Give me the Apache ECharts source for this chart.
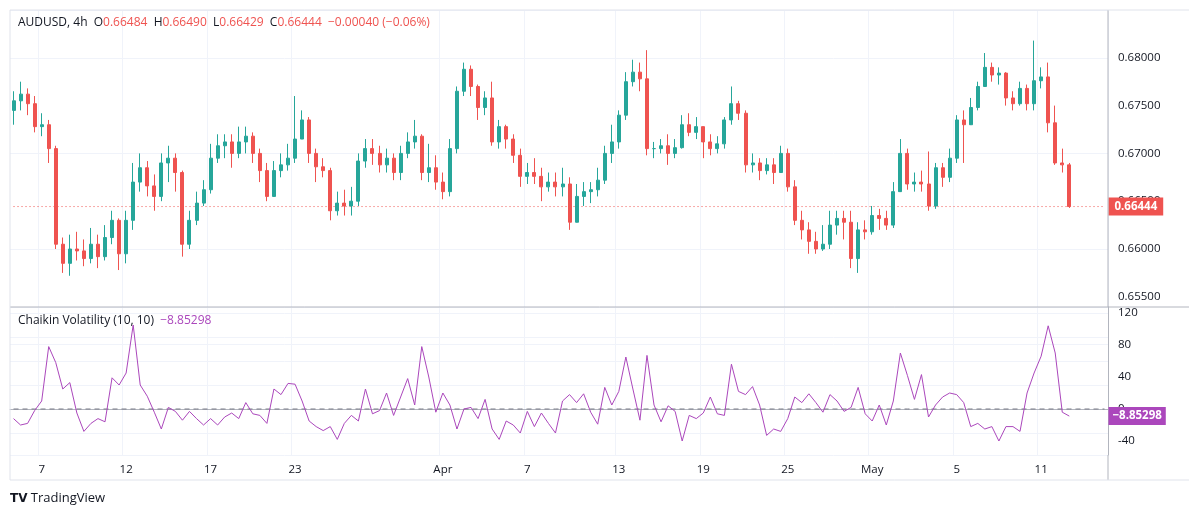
<!DOCTYPE html>
<html><head><meta charset="utf-8">
<script src="https://cdn.jsdelivr.net/npm/echarts@6/dist/echarts.min.js"></script>
<style>html,body{margin:0;padding:0;background:#fff}#c{width:1189px;height:519px}</style>
</head><body><div id="c"></div>
<script>
const firstOpen = 0.6745;
const closes = [.6755,.6762,.6752,.6728,.6730,.6705,.6605,.6585,.6600,.6598,.6590,.6605,.6592,.6612,.6630,.6595,.6630,.6670,.6685,.6666,.6655,.6690,.6695,.6680,.6605,.6630,.6648,.6662,.6695,.6708,.6712,.6700,.6712,.6718,.6700,.6682,.6655,.6682,.6688,.6695,.6715,.6735,.6700,.6686,.6682,.6640,.6648,.6645,.6650,.6692,.6705,.6700,.6688,.6695,.6680,.6700,.6712,.6718,.6680,.6685,.6670,.6660,.6705,.6765,.6788,.6770,.6748,.6758,.6712,.6728,.6715,.6698,.6676,.6680,.6676,.6665,.6670,.6665,.6668,.6628,.6655,.6660,.6662,.6672,.6700,.6712,.6740,.6775,.6785,.6778,.6705,.6705,.6708,.6700,.6706,.6730,.6722,.6728,.6712,.6705,.6710,.6735,.6752,.6742,.6688,.6690,.6682,.6688,.6680,.6700,.6665,.6630,.6620,.6608,.6600,.6605,.6625,.6632,.6628,.6590,.6620,.6618,.6635,.6632,.6625,.6660,.6700,.6668,.6670,.6668,.6645,.6685,.6675,.6695,.6735,.6730,.6748,.6770,.6790,.6782,.6784,.6758,.6752,.6768,.6752,.6776,.6780,.6732,.6690,.6688,.66444];
const highs = [.6765,.6775,.6768,.6760,.6742,.6735,.6708,.6612,.6615,.6618,.6610,.6622,.6615,.6625,.6640,.6632,.6640,.6690,.6700,.6692,.6678,.6700,.6708,.6700,.6682,.6640,.6660,.6672,.6710,.6720,.6720,.6720,.6728,.6728,.6722,.6705,.6690,.6692,.6700,.6710,.6760,.6745,.6738,.6705,.6695,.6685,.6660,.6662,.6665,.6700,.6715,.6715,.6708,.6705,.6700,.6708,.6722,.6735,.6720,.6710,.6698,.6680,.6715,.6770,.6795,.6792,.6772,.6765,.6775,.6735,.6730,.6720,.6705,.6690,.6695,.6685,.6680,.6680,.6685,.6675,.6668,.6670,.6670,.6685,.6708,.6730,.6745,.6785,.6798,.6795,.6808,.6712,.6715,.6720,.6715,.6740,.6742,.6738,.6728,.6720,.6718,.6738,.6770,.6755,.6745,.6700,.6695,.6695,.6695,.6708,.6705,.6672,.6640,.6628,.6618,.6625,.6640,.6640,.6640,.6640,.6628,.6630,.6645,.6642,.6640,.6670,.6715,.6705,.6680,.6682,.6702,.6690,.6690,.6705,.6740,.6745,.6758,.6775,.6805,.6795,.6790,.6785,.6765,.6775,.6772,.6818,.6790,.6795,.6750,.6705,.6690];
const lows = [.6730,.6745,.6740,.6722,.6718,.6690,.6600,.6575,.6572,.6588,.6582,.6585,.6580,.6588,.6605,.6578,.6585,.6620,.6660,.6655,.6640,.6650,.6670,.6660,.6592,.6600,.6625,.6645,.6658,.6690,.6695,.6685,.6695,.6700,.6690,.6670,.6650,.6668,.6675,.6682,.6690,.6720,.6690,.6670,.6675,.6630,.6635,.6635,.6635,.6645,.6685,.6688,.6680,.6680,.6672,.6672,.6695,.6705,.6672,.6670,.6662,.6652,.6655,.6700,.6760,.6760,.6735,.6740,.6708,.6705,.6705,.6690,.6665,.6668,.6668,.6650,.6660,.6655,.6655,.6620,.6635,.6645,.6648,.6655,.6668,.6690,.6705,.6735,.6770,.6765,.6698,.6695,.6700,.6688,.6695,.6705,.6718,.6715,.6695,.6698,.6700,.6705,.6730,.6735,.6680,.6680,.6672,.6678,.6668,.6685,.6660,.6625,.6610,.6595,.6595,.6598,.6600,.6615,.6610,.6580,.6575,.6610,.6615,.6620,.6620,.6622,.6668,.6662,.6660,.6660,.6640,.6642,.6665,.6670,.6690,.6690,.6735,.6745,.6775,.6775,.6772,.6750,.6745,.6750,.6745,.6745,.6768,.6722,.6688,.6680,.6643];
const chaikin = [-12,-20,-18,-2,10,78,58,25,33,-5,-28,-18,-12,-16,39,30,45,105,30,16,-4,-25,2,-3,-14,-3,-12,-20,-12,-20,-10,-5,-12,8,-6,-8,-18,25,18,32,31,10,-15,-22,-27,-22,-38,-18,-8,-15,25,-6,-2,20,-8,15,38,5,78,40,-4,20,5,-25,0,2,-12,12,-25,-38,-15,-20,-30,-3,-22,-5,-18,-30,10,18,8,19,-4,-19,27,5,22,65,25,-14,67,5,-16,4,-3,-40,-8,-12,-5,15,-6,-8,56,22,18,28,5,-33,-25,-28,-12,15,8,19,8,-4,18,10,-3,2,27,-6,-15,5,-20,10,70,42,12,43,-10,5,15,20,18,8,-22,-18,-25,-22,-40,-22,-22,-28,20,45,66,104,70,-4,-8.85298];
const tickIndex = [4,16,28,40,61,73,86,98,110,122,134,146];
const tickText = ['7','12','17','23','Apr','7','13','19','25','May','5','11'];
const priceTicks = [0.655,0.660,0.665,0.670,0.675,0.680];
const cvTicks = [-40,0,40,80,120];
const lastPrice = 0.66444, lastCV = -8.85298;

const N = 156;
const cats = [];
for (let i=0;i<N;i++){ const k=tickIndex.indexOf(i); cats.push(k>=0?tickText[k]:''); }
const ohlc = closes.map((c,i)=>[i===0?firstOpen:closes[i-1], c, lows[i], highs[i]]);
const flat = v => cats.map(()=>v);
const intervalFn = (i,v)=>v!=='';
const UP='#26a69a', DN='#ef5350', GRID='#f0f3fa', TXT='#131722', BORDER='#b2b5be', PUR='#ab47bc';
const chart = echarts.init(document.getElementById('c'));
chart.setOption({
  animation:false,
  textStyle:{fontFamily:'"Open Sans", "Noto Sans", sans-serif'},
  grid:[{left:10,right:81,top:10,height:334.6},{left:10,right:81,top:307,height:148}],
  xAxis:[
    {type:'category',gridIndex:0,data:cats,boundaryGap:true,axisLine:{show:false},axisTick:{show:false},axisLabel:{show:false},splitLine:{show:true,interval:intervalFn,lineStyle:{color:GRID}}},
    {type:'category',gridIndex:1,data:cats,boundaryGap:true,axisLine:{lineStyle:{color:BORDER}},axisTick:{show:false},
     axisLabel:{interval:intervalFn,color:TXT,fontSize:11.5,margin:9},splitLine:{show:true,interval:intervalFn,lineStyle:{color:GRID}}}
  ],
  yAxis:[
    {type:'value',gridIndex:0,position:'right',min:0.650,max:0.685,
     axisLine:{show:false},axisTick:{show:false},
     axisLabel:{customValues:priceTicks,formatter:v=>v.toFixed(5),color:TXT,fontSize:11.5,margin:10},
     splitLine:{show:true,lineStyle:{color:GRID}}},
    {type:'value',gridIndex:1,position:'right',min:-57.5,max:127.5,
     axisLine:{show:true,lineStyle:{color:BORDER}},axisTick:{show:false},
     axisLabel:{customValues:cvTicks,color:TXT,fontSize:11.5,margin:10},
     splitLine:{show:true,lineStyle:{color:GRID}}}
  ],
  graphic:[
    {type:'rect',shape:{x:10,y:307,width:1098,height:148},style:{fill:'#fff'},z:-1,silent:true},
    {type:'line',shape:{x1:10,y1:307,x2:1189,y2:307},style:{stroke:BORDER,lineWidth:1},z:50},
    {type:'line',shape:{x1:1108,y1:10,x2:1108,y2:307},style:{stroke:BORDER,lineWidth:1},z:50},
    {type:'line',shape:{x1:1108,y1:455,x2:1108,y2:480},style:{stroke:BORDER,lineWidth:1},z:50},
    {type:'line',shape:{x1:10,y1:10,x2:1189,y2:10},style:{stroke:'#e0e3eb',lineWidth:1},z:50},
    {type:'line',shape:{x1:10,y1:10,x2:10,y2:480},style:{stroke:'#e0e3eb',lineWidth:1},z:50},
    {type:'line',shape:{x1:10,y1:480,x2:1189,y2:480},style:{stroke:'#e0e3eb',lineWidth:1},z:50},
    {type:'text',left:18,top:17,z:60,style:{text:'{k|AUDUSD, 4h  O}{v|0.66484}{k|  H}{v|0.66490}{k|  L}{v|0.66429}{k|  C}{v|0.66444}{v|  −0.00040 (−0.06%)}',
      rich:{k:{fill:TXT,fontSize:12,fontFamily:'"Open Sans"'},v:{fill:DN,fontSize:12,fontFamily:'"Open Sans"'}}}},
    {type:'text',left:18,top:315,z:60,style:{text:'{k|Chaikin Volatility (10, 10)}{v|  −8.85298}',
      rich:{k:{fill:TXT,fontSize:12,fontFamily:'"Open Sans"'},v:{fill:PUR,fontSize:12,fontFamily:'"Open Sans"'}}}},
    {type:'text',left:10,top:492,z:60,style:{text:'{l|TV} {t|TradingView}',rich:{l:{fill:'#131722',fontSize:12,fontWeight:'bold',fontFamily:'"DejaVu Sans"'},t:{fill:'#131722',fontSize:13,fontFamily:'"Open Sans"'}}}}
  ],
  series:[
    {type:'line',xAxisIndex:0,yAxisIndex:0,data:flat(lastPrice),symbol:'none',silent:true,z:1,
     lineStyle:{color:DN,type:[1,3],width:1},
     endLabel:{show:true,formatter:()=>lastPrice.toFixed(5),color:'#fff',backgroundColor:DN,padding:[3,6,3,6],fontSize:11.5,fontWeight:'bold',distance:4}},
    {type:'candlestick',xAxisIndex:0,yAxisIndex:0,data:ohlc,barMaxWidth:5,z:3,
     itemStyle:{color:UP,color0:DN,borderColor:UP,borderColor0:DN,borderWidth:1}},
    {type:'line',xAxisIndex:1,yAxisIndex:1,data:flat(0),symbol:'none',silent:true,z:1,
     lineStyle:{color:'#787b86',type:[5,4],width:1}},
    {type:'line',xAxisIndex:1,yAxisIndex:1,data:chaikin,symbol:'none',lineStyle:{color:PUR,width:1},z:5},
    {type:'line',xAxisIndex:1,yAxisIndex:1,data:flat(lastCV),symbol:'none',silent:true,z:6,
     lineStyle:{opacity:0},
     endLabel:{show:true,formatter:()=>'−8.85298',color:'#fff',backgroundColor:PUR,padding:[3,4,3,4],fontSize:11.5,fontWeight:'bold',distance:4}}
  ]
});
</script></body></html>
